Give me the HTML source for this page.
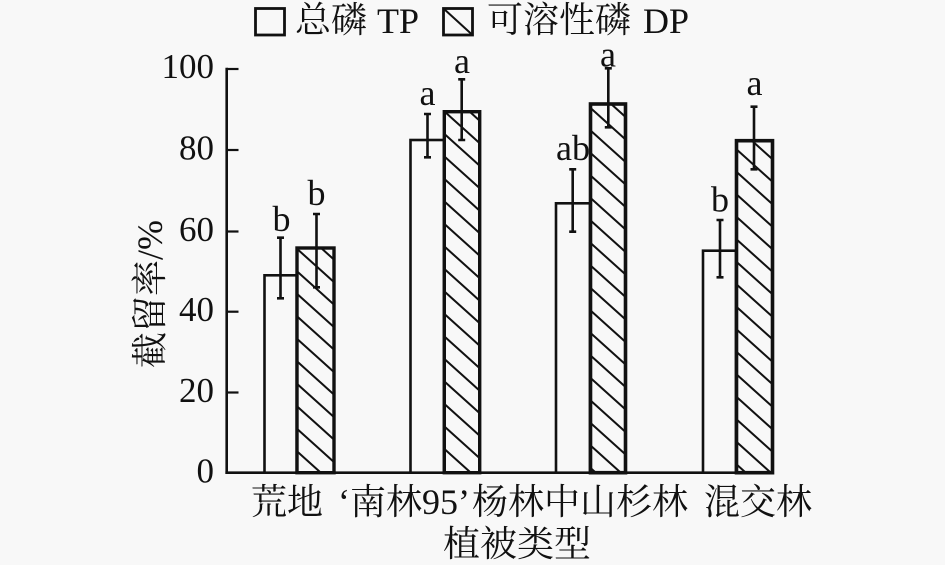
<!DOCTYPE html>
<html>
<head>
<meta charset="utf-8">
<style>
html,body{margin:0;padding:0;background:#f8f8f8;}
svg{display:block;}
text{fill:#111;}
.t{font-family:"Liberation Serif","Noto Serif CJK SC",serif;font-size:36px;}
.n{font-family:"Liberation Serif",serif;font-size:35px;}
</style>
</head>
<body>
<svg width="945" height="565" viewBox="0 0 945 565" xmlns="http://www.w3.org/2000/svg">
<defs>
<pattern id="h" patternUnits="userSpaceOnUse" width="25" height="22.5" x="0" y="4">
<path d="M-5,-4.5 L30,27 M-5,18 L5,27 M20,-4.5 L30,4.5" stroke="#111" stroke-width="2" fill="none"/>
</pattern>
</defs>
<rect x="0" y="0" width="945" height="565" fill="#f8f8f8"/>

<!-- Legend -->
<rect x="255.5" y="8.5" width="29" height="26.5" fill="none" stroke="#111" stroke-width="2.8"/>
<text class="t" x="295" y="32">总磷</text>
<text class="t" x="377" y="33">TP</text>
<rect x="443.5" y="8.5" width="29" height="26.5" fill="none" stroke="#111" stroke-width="2.8"/>
<line x1="443.5" y1="8.5" x2="472.5" y2="35" stroke="#111" stroke-width="2"/>
<text class="t" x="487" y="32">可溶性磷</text>
<text class="t" x="643" y="33">DP</text>

<!-- Axes -->
<line x1="226.7" y1="67.8" x2="226.7" y2="474" stroke="#111" stroke-width="2.6"/>
<line x1="225.4" y1="472.7" x2="773" y2="472.7" stroke="#111" stroke-width="2.6"/>
<g stroke="#111" stroke-width="2.2">
<line x1="226.7" y1="69" x2="238.5" y2="69"/>
<line x1="226.7" y1="150" x2="238.5" y2="150"/>
<line x1="226.7" y1="231.5" x2="238.5" y2="231.5"/>
<line x1="226.7" y1="311.7" x2="238.5" y2="311.7"/>
<line x1="226.7" y1="392.5" x2="238.5" y2="392.5"/>
</g>
<g class="n" text-anchor="end">
<text x="214" y="78">100</text>
<text x="214" y="159.5">80</text>
<text x="214" y="241">60</text>
<text x="214" y="321">40</text>
<text x="214" y="402">20</text>
<text x="214" y="482.5">0</text>
</g>

<!-- Y-axis title -->
<text class="t" transform="translate(162,294) rotate(-90)" text-anchor="middle">截留率/%</text>

<!-- Bars -->
<g stroke="#111">
<!-- G1 -->
<rect x="264.5" y="275.3" width="32.2" height="197.4" fill="#f8f8f8" stroke-width="2.6"/>
<rect x="297" y="248" width="37" height="224.7" fill="url(#h)" stroke-width="3.4"/>
<!-- G2 -->
<rect x="410.5" y="140" width="33.5" height="332.7" fill="#f8f8f8" stroke-width="2.6"/>
<rect x="444.3" y="111.7" width="35.4" height="361" fill="url(#h)" stroke-width="3.4"/>
<!-- G3 -->
<rect x="556" y="203.3" width="34" height="269.4" fill="#f8f8f8" stroke-width="2.6"/>
<rect x="590.5" y="104" width="35" height="368.7" fill="url(#h)" stroke-width="3.6"/>
<!-- G4 -->
<rect x="703" y="250.7" width="33" height="222" fill="#f8f8f8" stroke-width="2.6"/>
<rect x="736.5" y="140.7" width="36" height="332" fill="url(#h)" stroke-width="3.6"/>
</g>

<!-- Error bars -->
<g stroke="#111" stroke-width="2.6" fill="none">
<path d="M280.5,237.7 V298.3 M277,237.7 H284 M277,298.3 H284"/>
<path d="M316.5,214 V287.3 M313,214 H320 M313,287.3 H320"/>
<path d="M427.5,114 V157.3 M424,114 H431 M424,157.3 H431"/>
<path d="M461.7,79.3 V140 M458.2,79.3 H465.2 M458.2,140 H465.2"/>
<path d="M572.7,169.3 V231.7 M569.2,169.3 H576.2 M569.2,231.7 H576.2"/>
<path d="M608.3,68.3 V127.3 M604.8,68.3 H611.8 M604.8,127.3 H611.8"/>
<path d="M720,220 V277.3 M716.5,220 H723.5 M716.5,277.3 H723.5"/>
<path d="M754,106.7 V169.3 M750.5,106.7 H757.5 M750.5,169.3 H757.5"/>
</g>

<!-- Significance letters -->
<g class="t" text-anchor="middle">
<text x="281.5" y="231">b</text>
<text x="316.5" y="205">b</text>
<text x="427.5" y="105">a</text>
<text x="462" y="73">a</text>
<text x="573" y="160">ab</text>
<text x="608" y="66.5">a</text>
<text x="720" y="211.5">b</text>
<text x="754.5" y="95">a</text>
</g>

<!-- X labels -->
<text class="t" x="251" y="514">荒地</text>
<text class="t" x="338" y="514">‘南林95’</text>
<text class="t" x="472" y="514">杨林中山杉林</text>
<text class="t" x="704" y="514">混交林</text>
<text class="t" x="443" y="556" textLength="148" lengthAdjust="spacingAndGlyphs">植被类型</text>
</svg>
</body>
</html>
